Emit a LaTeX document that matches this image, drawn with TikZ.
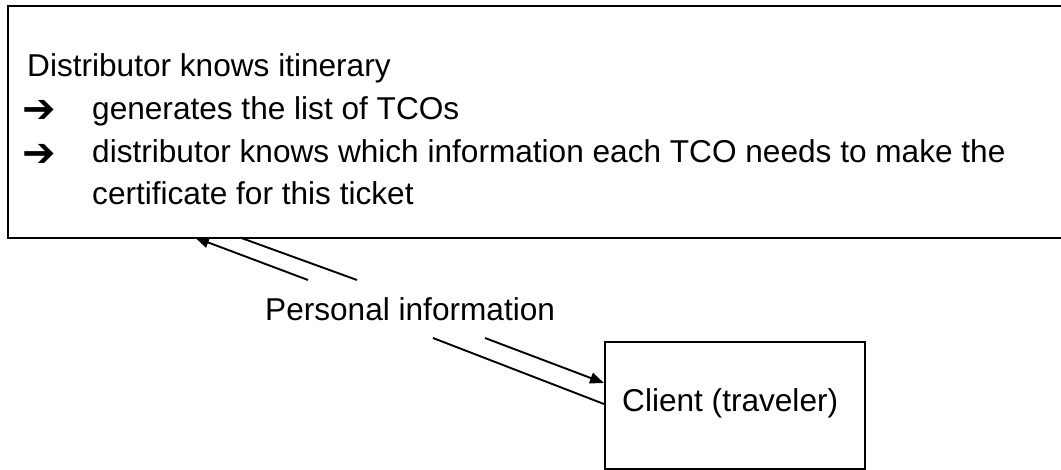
\documentclass[tikz,border=0pt]{standalone}
\usepackage{fontspec}
\setmainfont{Liberation Sans}
\newfontfamily\symfont{DejaVu Sans}
\usetikzlibrary{arrows.meta}
\begin{document}
\begin{tikzpicture}[x=1pt,y=-1pt,
  txt/.style={anchor=base west, inner sep=0pt, font=\fontsize{31.6}{37}\selectfont},
  arr/.style={anchor=center, inner sep=0pt, font=\symfont\bfseries\fontsize{40}{44}\selectfont},
  boxline/.style={draw=black, line width=1.8pt, rectangle, inner sep=0pt, anchor=north west},
  conn/.style={draw=black, line width=1.9pt},
  tip/.style={-{Triangle[length=14pt,width=11pt]}}]
\useasboundingbox (0,0) rectangle (1061,469);
\clip (0,0) rectangle (1061,469);
% boxes
\node[boxline, minimum width=1080pt, minimum height=232pt] (dist) at (7,5) {};
\node[boxline, minimum width=260pt, minimum height=127pt] (client) at (604,341) {};
% texts
\node[txt] (t1) at (27,76) {Distributor knows itinerary};
\node[arr] (a1) at (39,111) {➔};
\node[txt] (t2) at (92,119) {generates the list of TCOs};
\node[arr] (a2) at (39,155) {➔};
\node[txt] (t3) at (92,162) {distributor knows which information each TCO needs to make the};
\node[txt] (t4) at (92,204) {certificate for this ticket};
\node[txt] (pi) at (265,320) {Personal information};
\node[txt] (cl) at (622,411) {Client (traveler)};
% connector end points
\coordinate (dA) at (195,237.5);
\coordinate (dB) at (240,237.5);
\coordinate (cA) at (604,404);
\coordinate (cB) at (604,383);
\coordinate (gA1) at (308,280);
\coordinate (gA2) at (433,338);
\coordinate (gB1) at (357,280);
\coordinate (gB2) at (485,338);
% client -> distributor
\draw[conn] (cA) -- (gA2);
\draw[conn,tip] (gA1) -- (dA);
% distributor -> client
\draw[conn] (dB) -- (gB1);
\draw[conn,tip] (gB2) -- (cB);
\end{tikzpicture}
\end{document}
